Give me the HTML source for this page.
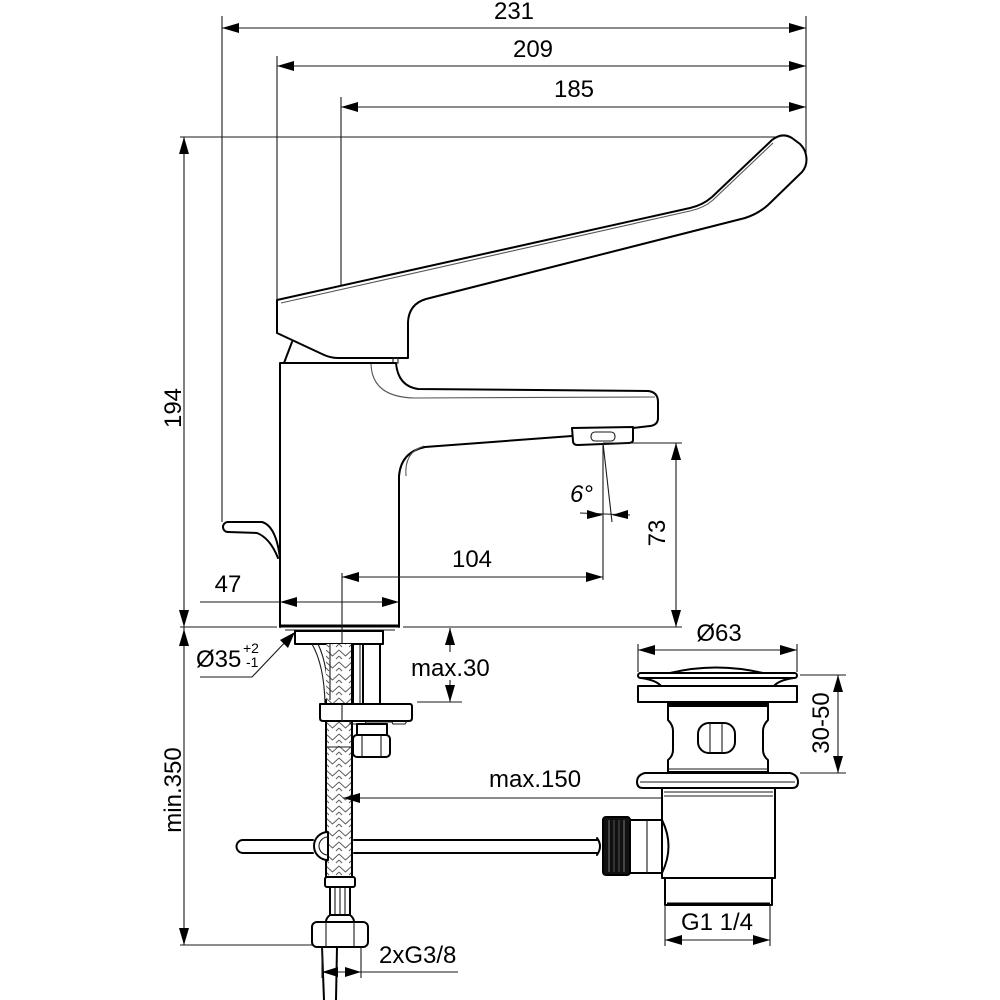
<!DOCTYPE html>
<html>
<head>
<meta charset="utf-8">
<style>
  html,body{margin:0;padding:0;background:#fff;}
  svg{display:block;}
  .o{stroke:#000;stroke-width:2;fill:none;stroke-linejoin:round;stroke-linecap:round;}
  .of{stroke:#000;stroke-width:2;fill:#fff;stroke-linejoin:round;}
  .t{stroke:#1a1a1a;stroke-width:1.1;fill:none;}
  .g{stroke:#555;stroke-width:1.1;fill:none;}
  .a{fill:#000;stroke:none;}
  text{font-family:"Liberation Sans",Arial,sans-serif;font-size:24px;fill:#000;}
</style>
</head>
<body>
<svg width="1000" height="1000" viewBox="0 0 1000 1000" xmlns="http://www.w3.org/2000/svg">
<defs>
  <pattern id="braid" x="326" y="0" width="13" height="12" patternUnits="userSpaceOnUse">
    <rect width="13" height="12" fill="#fff"/>
    <path d="M0,2 L6.5,8 L13,2 M0,8 L3,11 M13,8 L10,11" stroke="#555" stroke-width="0.9" fill="none"/>
  </pattern>
</defs>

<!-- ===== TOP DIMENSIONS ===== -->
<line class="t" x1="222" y1="28" x2="806" y2="28"/>
<polygon class="a" points="222,28 239,23 239,33"/>
<polygon class="a" points="806,28 789,23 789,33"/>
<text x="514" y="19" text-anchor="middle">231</text>

<line class="t" x1="277" y1="66" x2="806" y2="66"/>
<polygon class="a" points="277,66 294,61 294,71"/>
<polygon class="a" points="806,66 789,61 789,71"/>
<text x="533" y="57" text-anchor="middle">209</text>

<line class="t" x1="341" y1="107" x2="806" y2="107"/>
<polygon class="a" points="341,107 358,102 358,112"/>
<polygon class="a" points="806,107 789,102 789,112"/>
<text x="574" y="97" text-anchor="middle">185</text>

<!-- extension lines -->
<line class="t" x1="222" y1="16" x2="222" y2="522"/>
<line class="t" x1="277" y1="56" x2="277" y2="300"/>
<line class="t" x1="341" y1="97" x2="341" y2="286"/>
<line class="t" x1="806" y1="16" x2="806" y2="160"/>

<!-- ===== 194 / min.350 ===== -->
<line class="t" x1="180" y1="137" x2="780" y2="137"/>
<line class="t" x1="184" y1="137" x2="184" y2="945"/>
<polygon class="a" points="184,137 179,154 189,154"/>
<polygon class="a" points="184,627 179,610 189,610"/>
<polygon class="a" points="184,629 179,646 189,646"/>
<polygon class="a" points="184,945 179,928 189,928"/>
<line class="t" x1="180" y1="627" x2="277" y2="627"/>
<line class="t" x1="403" y1="627" x2="682" y2="627"/>
<line class="t" x1="180" y1="945" x2="313" y2="945"/>
<text transform="translate(181,408) rotate(-90)" text-anchor="middle">194</text>
<text transform="translate(181,790) rotate(-90)" text-anchor="middle">min.350</text>

<!-- ===== LEVER ===== -->
<path class="of" d="M277,300 L277,333 L322,354 Q330,358 338,358 L408,358 L408,322 Q409,304 426,299 L745,218 Q758,214 768,205 L802,172 Q808,165 806,155 Q805,149 800,144 L792,138 Q782,132 772,140 L712,197 Q703,205 690,208 Z"/>
<path class="g" d="M281,303 L690,211 Q704,208 713,200 L773,143"/>
<!-- wedge under lever -->
<path class="o" d="M292,342 L284,363"/>
<rect x="393" y="358" width="5" height="5" class="t"/>

<!-- ===== BODY + SPOUT ===== -->
<path class="o" d="M280,627 L280,363 L396,363 Q398,386 418,389 L648,391 Q658,392 658,402 L658,418 Q658,425 650,426 L633,428"/>
<path class="o" d="M572,436 L425,447 Q401,452 399,476 L399,627"/>
<line x1="280" y1="626" x2="399" y2="626" stroke="#000" stroke-width="3"/>
<line class="t" x1="285" y1="630" x2="395" y2="630"/>
<!-- inner thin lines -->
<path class="g" d="M371,364 Q372,397 414,398 L655,397"/>
<path class="g" d="M406,476 Q404,452 424,446"/>
<!-- aerator -->
<path class="o" d="M572,428 L633,427 L633,440 Q633,443 628,443 L578,445 Q573,445 573,441 Z"/>
<rect x="591" y="432" width="24" height="9" rx="4" class="t"/>

<!-- small lever (left) -->
<path class="o" d="M228,522 L262,522 Q276,526 280,558"/>
<path class="o" d="M228,532 L257,533 Q270,538 278,558"/>
<path class="o" d="M228,522 A5,5 0 0 0 228,532"/>

<!-- base ring -->
<rect x="295" y="631" width="88" height="13" class="o"/>

<!-- ===== 47 / 104 / 6° / 73 ===== -->
<line class="t" x1="200" y1="602" x2="399" y2="602"/>
<polygon class="a" points="280,602 297,597 297,607"/>
<polygon class="a" points="399,602 382,597 382,607"/>
<text x="228" y="592" text-anchor="middle">47</text>

<line class="t" x1="342" y1="573" x2="342" y2="800"/>
<line class="t" x1="342" y1="577" x2="603" y2="577"/>
<polygon class="a" points="342,577 359,572 359,582"/>
<polygon class="a" points="603,577 586,572 586,582"/>
<text x="472" y="567" text-anchor="middle">104</text>

<line class="t" x1="603" y1="445" x2="603" y2="580"/>
<line class="t" x1="603" y1="443" x2="612" y2="522"/>
<line class="t" x1="580" y1="513" x2="630" y2="515"/>
<polygon class="a" points="603,515 587,510 587,519"/>
<polygon class="a" points="612,515 628,510 628,519"/>
<text x="570" y="502" style="font-style:italic;font-size:24px">6°</text>

<line class="t" x1="603" y1="443" x2="682" y2="443"/>
<line class="t" x1="676" y1="443" x2="676" y2="627"/>
<polygon class="a" points="676,443 671,460 681,460"/>
<polygon class="a" points="676,627 671,610 681,610"/>
<text transform="translate(665,533) rotate(-90)" text-anchor="middle">73</text>

<!-- ===== Ø35 ===== -->
<text x="196" y="667">Ø35</text>
<text x="243" y="653" style="font-size:14px">+2</text>
<text x="246" y="667" style="font-size:14px">-1</text>
<polyline class="t" points="200,677 252,677 290,637"/>
<polygon class="a" points="295,632 288,648 280,640"/>

<!-- ===== max.30 ===== -->
<line class="t" x1="450" y1="628" x2="450" y2="652"/>
<polygon class="a" points="450,628 445,645 455,645"/>
<line class="t" x1="450" y1="680" x2="450" y2="702"/>
<polygon class="a" points="450,702 445,685 455,685"/>
<line class="t" x1="417" y1="702" x2="462" y2="702"/>
<text x="411" y="676">max.30</text>

<!-- ===== HOSE / MOUNTING ===== -->
<!-- stud -->
<line class="o" x1="353" y1="644" x2="353" y2="703"/>
<line class="t" x1="360" y1="644" x2="360" y2="703"/>
<line class="o" x1="363" y1="644" x2="363" y2="703"/>
<line class="o" x1="380" y1="644" x2="380" y2="703"/>
<!-- curved tube -->
<path class="t" d="M312,644 Q324,665 325,703"/>
<path class="t" d="M318,644 Q328,665 329,703"/>
<!-- braided hose -->
<rect x="326" y="644" width="26" height="233" fill="url(#braid)"/>
<line class="o" x1="326" y1="700" x2="326" y2="877"/>
<line class="o" x1="352" y1="644" x2="352" y2="877"/>
<line class="t" x1="330" y1="644" x2="330" y2="700"/>
<line class="t" x1="326" y1="747" x2="352" y2="747"/>
<!-- clamp plate -->
<path class="of" d="M320,704 L410,704 Q412,704 412,707 L412,718 Q412,721 409,721 L323,721 Q320,721 320,718 Z"/>
<path class="t" d="M350,721 L350,724 L365,724 L366,722 L392,722 L393,724 L405,724 L407,721"/>
<line class="t" x1="342" y1="704" x2="342" y2="721"/>
<!-- small block + nut -->
<rect x="357" y="724" width="30" height="11" class="o"/>
<rect x="353" y="735" width="37" height="22" rx="4" class="of"/>
<line class="t" x1="362" y1="735" x2="362" y2="757"/>
<line class="t" x1="381" y1="735" x2="381" y2="757"/>
<!-- hose end fittings -->
<rect x="325" y="877" width="30" height="10" rx="2" class="of"/>
<rect x="330" y="887" width="20" height="28" class="of"/>
<line class="t" x1="335" y1="888" x2="335" y2="914"/>
<line class="t" x1="340" y1="888" x2="340" y2="914"/>
<line class="t" x1="345" y1="888" x2="345" y2="914"/>
<path class="o" d="M330,915 Q326,918 326,922 M350,915 Q354,918 354,922"/>
<rect x="312" y="922" width="56" height="25" rx="5" class="of"/>
<line class="t" x1="326" y1="922" x2="326" y2="947"/>
<line class="t" x1="354" y1="922" x2="354" y2="947"/>
<path class="o" d="M322,947 L324,1000 M337,947 L336,1000"/>

<!-- ===== 2xG3/8 ===== -->
<line class="t" x1="322" y1="947" x2="322" y2="978"/>
<line class="t" x1="361" y1="947" x2="361" y2="978"/>
<line class="t" x1="322" y1="972" x2="458" y2="972"/>
<polygon class="a" points="322,972 338,967 338,977"/>
<polygon class="a" points="361,972 345,967 345,977"/>
<text x="379" y="963">2xG3/8</text>

<!-- ===== POP-UP ROD ===== -->
<path class="o" d="M313,840 L243,840 A6.5,6.5 0 0 0 243,853 L313,853"/>
<path class="o" d="M354,840 L597,840 M354,853 L597,853"/>
<path class="of" d="M328,832 A14,14 0 0 0 328,860 Z"/>
<path class="t" d="M328,837 A9,9 0 0 0 328,855"/>
<path class="o" d="M597,838 Q603,846 597,855"/>

<!-- ===== max.150 ===== -->
<line class="t" x1="343" y1="798" x2="718" y2="798"/>
<polygon class="a" points="343,798 360,793 360,803"/>
<polygon class="a" points="718,798 701,793 701,803"/>
<line class="t" x1="718" y1="786" x2="718" y2="808"/>
<text x="489" y="787">max.150</text>

<!-- ===== DRAIN ===== -->
<!-- Ø63 -->
<line class="t" x1="638" y1="650" x2="797" y2="650"/>
<polygon class="a" points="638,650 655,645 655,655"/>
<polygon class="a" points="797,650 780,645 780,655"/>
<line class="t" x1="638" y1="644" x2="638" y2="672"/>
<line class="t" x1="797" y1="644" x2="797" y2="672"/>
<text x="719" y="641" text-anchor="middle">Ø63</text>

<!-- cap -->
<path class="o" d="M670,673 Q716,662 763,673"/>
<rect x="638" y="673" width="159" height="5" rx="2.5" class="of"/>
<path class="o" d="M641,678 Q656,680 661,686 M794,678 Q779,680 774,686"/>
<rect x="638" y="686" width="159" height="16" class="of"/>
<!-- body -->
<path class="of" d="M668,703 L668,720 Q673,725 673,731 L673,750 Q673,756 668,760 L668,772 L768,772 L768,760 Q763,756 763,750 L763,731 Q763,725 768,720 L768,703 Z"/>
<rect x="667" y="703" width="102" height="4" fill="#000"/>
<line class="t" x1="668" y1="769" x2="768" y2="769"/>
<rect x="698" y="723" width="37" height="30" rx="11" class="o"/>
<line class="t" x1="710" y1="723" x2="710" y2="753"/>
<line class="t" x1="722" y1="723" x2="722" y2="753"/>
<!-- lower flange -->
<path class="of" d="M645,773 L790,773 Q798,775 798,782 Q798,788 792,788 L643,788 Q637,788 637,782 Q637,775 645,773 Z"/>
<line class="t" x1="640" y1="782" x2="795" y2="782"/>
<!-- lower body -->
<rect x="662" y="788" width="113" height="90" class="of"/>
<line class="t" x1="664" y1="792" x2="773" y2="792"/>
<line class="t" x1="664" y1="796" x2="773" y2="796"/>
<rect x="665" y="878" width="107" height="27" class="of"/>
<line x1="667" y1="904" x2="770" y2="904" stroke="#000" stroke-width="3"/>
<!-- side connector -->
<path class="o" d="M662,820 Q675,846 662,873"/>
<rect x="630" y="820" width="32" height="53" class="of"/>
<line class="t" x1="647" y1="820" x2="647" y2="873"/>
<rect x="603" y="817" width="27" height="58" rx="3" fill="#111" stroke="#000" stroke-width="2"/>
<line x1="609" y1="820" x2="609" y2="872" stroke="#777" stroke-width="1"/>
<line x1="614" y1="820" x2="614" y2="872" stroke="#555" stroke-width="1"/>
<line x1="619" y1="820" x2="619" y2="872" stroke="#555" stroke-width="1"/>
<line x1="624" y1="820" x2="624" y2="872" stroke="#777" stroke-width="1"/>

<!-- 30-50 -->
<line class="t" x1="800" y1="675" x2="846" y2="675"/>
<line class="t" x1="800" y1="773" x2="846" y2="773"/>
<line class="t" x1="838" y1="675" x2="838" y2="773"/>
<polygon class="a" points="838,675 833,692 843,692"/>
<polygon class="a" points="838,773 833,756 843,756"/>
<text transform="translate(829,723) rotate(-90)" text-anchor="middle">30-50</text>

<!-- G1 1/4 -->
<line class="t" x1="665" y1="905" x2="665" y2="946"/>
<line class="t" x1="770" y1="905" x2="770" y2="946"/>
<line class="t" x1="665" y1="940" x2="770" y2="940"/>
<polygon class="a" points="665,940 682,935 682,945"/>
<polygon class="a" points="770,940 753,935 753,945"/>
<text x="717" y="930" text-anchor="middle">G1 1/4</text>

</svg>
</body>
</html>
